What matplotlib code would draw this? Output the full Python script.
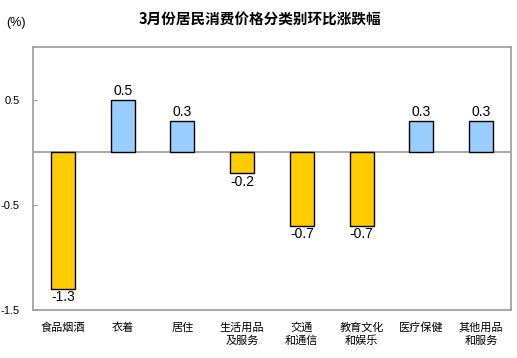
import matplotlib
matplotlib.use("Agg")
import matplotlib.pyplot as plt

categories = ["食品烟酒", "衣着", "居住", "生活用品\n及服务", "交通\n和通信", "教育文化\n和娱乐", "医疗保健", "其他用品\n和服务"]
values = [-1.3, 0.5, 0.3, -0.2, -0.7, -0.7, 0.3, 0.3]
yticks = [0.5, -0.5, -1.5]
ytick_labels = ["0.5", "-0.5", "-1.5"]
title = "3月份居民消费价格分类别环比涨跌幅"

cjk = ["Noto Sans CJK SC", "DejaVu Sans"]
num = ["Liberation Sans", "DejaVu Sans"]

fig = plt.figure(figsize=(5.17, 3.58), dpi=100)
ax = fig.add_axes([33/517, 48/358, 478/517, 263/358])

colors = ["#FFCC00" if v < 0 else "#99CCFF" for v in values]
x = list(range(len(values)))
ax.bar(x, values, width=0.4, color=colors, edgecolor="black", linewidth=1.0, zorder=3)
ax.axhline(0, color="#999999", linewidth=1.2, zorder=2)

for xi, v in zip(x, values):
    if v >= 0:
        ax.annotate(f"{v:.1f}", (xi, v), xytext=(0, 1), textcoords="offset points",
                    ha="center", va="bottom", fontsize=10, family=num)
    else:
        ax.annotate(f"{v:.1f}", (xi, v), xytext=(0, -1), textcoords="offset points",
                    ha="center", va="top", fontsize=10, family=num)

ax.set_xlim(-0.5, len(values) - 0.5)
ax.set_ylim(-1.5, 1.0)
ax.set_yticks(yticks)
ax.set_yticklabels(ytick_labels, family=num, fontsize=8)
ax.tick_params(axis="y", direction="in", length=3, color="#999999", pad=9.5)
ax.set_xticks(x)
ax.set_xticklabels(categories, family=cjk, fontsize=8, linespacing=1.3)
ax.tick_params(axis="x", length=0, pad=9)
for s in ax.spines.values():
    s.set_color("#999999")
    s.set_linewidth(1.2)

fig.text(260/517, 1 - 20/358, title, ha="center", va="center", fontsize=10.5, family=cjk, weight="bold")
fig.text(6/517, 1 - 23/358, "(%)", ha="left", va="center", fontsize=9, family=num)

fig.savefig("out.png", dpi=100)
